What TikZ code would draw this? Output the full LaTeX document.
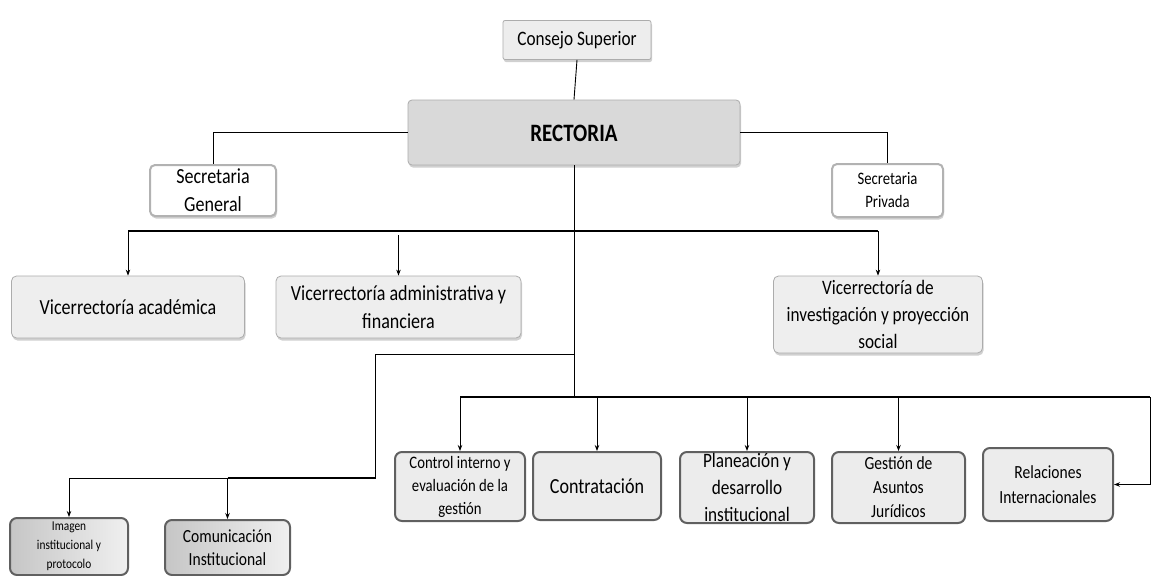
\documentclass[tikz,border=0pt]{standalone}
\usepackage{fontspec}
\setmainfont{Carlito}[FakeStretch=0.84]
\usetikzlibrary{arrows.meta,shadows}
\newcommand{\txtsz}[2]{\fontsize{#1}{#2}\selectfont}
\begin{document}
\begin{tikzpicture}[x=1pt,y=-1pt,
    sombra/.style={drop shadow={shadow xshift=1pt,shadow yshift=-2.5pt,fill=black!30,opacity=0.6}},
    topbox/.style={draw=gray!65,fill=gray!14,line width=0.8pt,rounded corners=2pt,sombra,align=center,inner sep=2pt},
    secbox/.style={draw=gray!60,fill=white,line width=2pt,rounded corners=5pt,sombra,align=center,inner sep=1pt},
    vicebox/.style={draw=gray!65,fill=gray!13,line width=0.8pt,rounded corners=5pt,sombra,align=center,inner sep=2pt},
    unitbox/.style={draw=gray!75!black,fill=gray!15,line width=2pt,rounded corners=7pt,align=center,inner sep=1pt},
    combox/.style={draw=gray!75!black,left color=gray!45,right color=gray!12,line width=2pt,rounded corners=7pt,align=center,inner sep=1pt},
    linea/.style={draw=black,line width=0.9pt},
    barra/.style={draw=black,line width=1.6pt},
    flecha/.style={linea,-{Stealth[length=6pt,width=4.5pt]}}]
    \clip (0,0) rectangle (1152,576);
    \fill[white] (0,0) rectangle (1152,576);

    % cabeza
    \node[topbox,minimum width=148,minimum height=39,font=\txtsz{20.5}{23}] (cs) at (577,40) {Consejo Superior};
    \node[topbox,fill=gray!30,rounded corners=4pt,minimum width=332,minimum height=65,font=\txtsz{25}{28}\bfseries] (rect) at (574,132.5) {\raisebox{-18pt}{RECTORIA}};
    \node[secbox,minimum width=126,minimum height=51,font=\txtsz{21.5}{28}] (sg) at (213,190.5) {Secretaria\\General};
    \node[secbox,minimum width=111,minimum height=53,font=\txtsz{17.5}{23}] (sp) at (887.5,190.5) {Secretaria\\Privada};

    % vicerrectorias
    \node[vicebox,minimum width=233,minimum height=62,font=\txtsz{21.5}{28}] (va) at (128,307) {Vicerrectoría académica};
    \node[vicebox,minimum width=245,minimum height=62,font=\txtsz{21.5}{28}] (vf) at (398.5,307) {Vicerrectoría administrativa y\\financiera};
    \node[vicebox,minimum width=209,minimum height=77,font=\txtsz{20.5}{27}] (vi) at (878,314.5) {Vicerrectoría de\\investigación y proyección\\social};

    % dependencias
    \node[unitbox,minimum width=130,minimum height=69,font=\txtsz{17.5}{23}] (ct) at (460,486.5) {Control interno y\\evaluación de la\\gestión};
    \node[unitbox,minimum width=128,minimum height=68,font=\txtsz{21.5}{26}] (co) at (597,486) {Contratación};
    \node[unitbox,minimum width=134,minimum height=71,font=\txtsz{20.5}{27}] (pl) at (747,487.5) {Planeación y\\desarrollo\\institucional};
    \node[unitbox,minimum width=133,minimum height=71,font=\txtsz{18.5}{24}] (gj) at (898.5,487.5) {Gestión de\\Asuntos\\Jurídicos};
    \node[unitbox,minimum width=130,minimum height=73,font=\txtsz{18.5}{25}] (ri) at (1048,484.5) {Relaciones\\Internacionales};
    \node[combox,minimum width=118,minimum height=57,font=\txtsz{13.5}{19}] (im) at (69,546.5) {Imagen\\institucional y\\protocolo};
    \node[combox,minimum width=125,minimum height=55,font=\txtsz{18.5}{23}] (ci) at (227.5,547.5) {Comunicación\\Institucional};

    % puntos de union
    \coordinate (b1l) at (128,231);
    \coordinate (b1r) at (878,231);
    \coordinate (b1f) at (398.5,235);
    \coordinate (k1) at (574,354);
    \coordinate (k2) at (375,478);
    \coordinate (k3) at (69,478);
    \coordinate (k4) at (227.5,478);
    \coordinate (b2l) at (460,397);
    \coordinate (b2m) at (574,397);
    \coordinate (b2r) at (1150,397);

    % conectores
    \draw[linea] (cs.south) -- (rect.north);
    \draw[linea] (rect.west) -| (sg.north);
    \draw[linea] (rect.east) -| (sp.north);
    \draw[linea] (rect.south) -- (b2m);
    \draw[barra] (b1l) -- (b1r);
    \draw[flecha] (b1l) -- (va.north);
    \draw[flecha] (b1f) -- (vf.north);
    \draw[flecha] (b1r) -- (vi.north);
    \draw[linea] (k1) -- (k1 -| k2) -- (k2) -- (k3);
    \draw[barra] (k4) -- (k2);
    \draw[flecha] (k3) -- (im.north);
    \draw[flecha] (k4) -- (ci.north);
    \draw[barra] (b2l) -- (b2r);
    \draw[flecha] (b2r) |- (ri.east);
    \draw[flecha] (b2l) -- (ct.north);
    \draw[flecha] (b2l -| co.north) -- (co.north);
    \draw[flecha] (b2l -| pl.north) -- (pl.north);
    \draw[flecha] (b2l -| gj.north) -- (gj.north);
\end{tikzpicture}
\end{document}
